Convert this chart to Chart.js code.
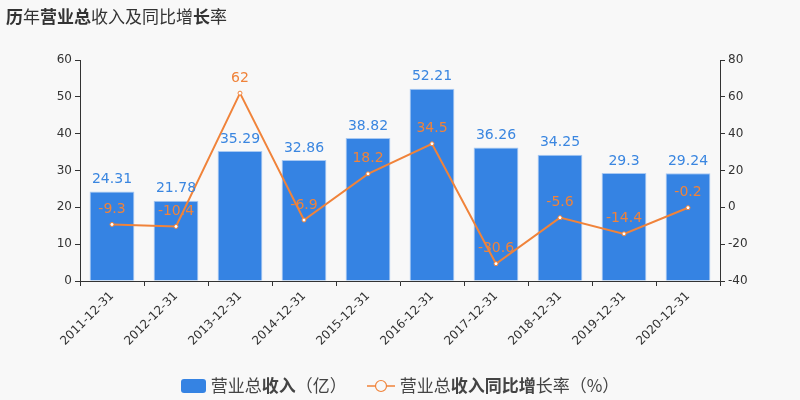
<!DOCTYPE html>
<html>
<head>
<meta charset="utf-8">
<script src="https://cdn.jsdelivr.net/npm/chart.js@4.4.0/dist/chart.umd.min.js"></script>
<style>
  html,body{margin:0;padding:0;background:#f8f8f8;}
  #wrap{position:relative;width:800px;height:400px;}
  #title{position:absolute;left:6px;top:3px;font-family:"DejaVu Sans","Noto Sans CJK SC",sans-serif;font-size:17px;color:#333;}
  #title b, #legend b{font-weight:bold;}
  #legend{position:absolute;left:0;top:372px;width:800px;text-align:center;font-family:"Noto Sans CJK SC",sans-serif;font-size:17px;line-height:22px;color:#444;white-space:nowrap;}
  .item{display:inline-block;vertical-align:middle;}
  .item + .item{margin-left:20px;}
  .mk{display:inline-block;vertical-align:middle;margin-right:5px;position:relative;top:-2px;}
</style>
</head>
<body>
<div id="wrap">
  <canvas id="c" width="800" height="400"></canvas>
  <div id="title"><b>历</b>年<b>营业总</b>收入及同比增<b>长</b>率</div>
  <div id="legend"></div>
</div>
<script>
const years = ['2011-12-31','2012-12-31','2013-12-31','2014-12-31','2015-12-31','2016-12-31','2017-12-31','2018-12-31','2019-12-31','2020-12-31'];
const revenue = [24.31, 21.78, 35.29, 32.86, 38.82, 52.21, 36.26, 34.25, 29.3, 29.24];
const growth = [-9.3, -10.4, 62, -6.9, 18.2, 34.5, -30.6, -5.6, -14.4, -0.2];
const leftTicks = [0, 60, 10];
const rightTicks = [-40, 80, 20];
const seriesNames = ['营业总收入（亿）', '营业总收入同比增长率（%）'];

const FONT = '"DejaVu Sans","Noto Sans CJK SC",sans-serif';
const BLUE = '#3583e3', ORANGE = '#f0833a';

// legend as html (mixed weights like the original)
function legendHtml(){
  const bar = '<svg class="mk" width="25" height="14"><rect x="0" y="0" width="25" height="14" rx="3" fill="'+BLUE+'"/></svg>';
  const line = '<svg class="mk" width="28" height="14"><line x1="0" y1="7" x2="28" y2="7" stroke="'+ORANGE+'" stroke-width="1.5"/>'+
    '<circle cx="14" cy="7" r="5.5" fill="#f8f8f8" stroke="'+ORANGE+'" stroke-width="1.2"/></svg>';
  const a = seriesNames[0], b = seriesNames[1];
  document.getElementById('legend').innerHTML =
    '<span class="item">'+bar+a.slice(0,3)+'<b>'+a.slice(3,5)+'</b>'+a.slice(5)+'</span>'+
    '<span class="item">'+line+b.slice(0,3)+'<b>'+b.slice(3,8)+'</b>'+b.slice(8)+'</span>';
}
legendHtml();

const valueLabels = {
  id:'valueLabels',
  afterDatasetsDraw(chart){
    const ctx = chart.ctx;
    ctx.save();
    ctx.font = '14px ' + FONT;
    ctx.textAlign = 'center'; ctx.textBaseline = 'bottom';
    chart.data.datasets.forEach((ds,i)=>{
      const meta = chart.getDatasetMeta(i);
      meta.data.forEach((el,j)=>{
        if(ds.type === 'line'){
          ctx.fillStyle = ORANGE;
          ctx.fillText(String(ds.data[j]), el.x, el.y - 8);
        } else {
          ctx.fillStyle = '#3a86e0';
          ctx.fillText(String(ds.data[j]), el.x, el.y - 5);
        }
      });
    });
    ctx.restore();
  }
};

new Chart(document.getElementById('c'), {
  data:{
    labels: years,
    datasets:[
      { type:'line', label: seriesNames[1], data: growth, yAxisID:'y1',
        borderColor: ORANGE, borderWidth: 2, pointRadius: 2, pointBackgroundColor:'#fff',
        pointBorderColor: ORANGE, pointBorderWidth: 1, tension: 0, order: 0 },
      { type:'bar', label: seriesNames[0], data: revenue, yAxisID:'y',
        backgroundColor: BLUE, borderColor:'#a9c9f2', borderWidth: 1,
        barPercentage: 0.7, categoryPercentage: 1, order: 1 }
    ]
  },
  options:{
    responsive:false, animation:false,
    layout:{ padding:{ top:60, left:0, right:0, bottom:38 } },
    plugins:{ legend:{ display:false }, tooltip:{ enabled:false } },
    scales:{
      x:{
        grid:{ offset:true, drawOnChartArea:false, tickLength:5, color:'#333' },
        border:{ color:'#333' },
        ticks:{ maxRotation:45, minRotation:45, color:'#333', font:{ size:12, family: FONT } },
        afterFit(s){ s.height = 81; }
      },
      y:{
        position:'left', min: leftTicks[0], max: leftTicks[1],
        ticks:{ stepSize: leftTicks[2], color:'#333', font:{ size:12, family: FONT } },
        grid:{ drawOnChartArea:false, tickLength:5, color:'#333' },
        border:{ color:'#333' },
        afterFit(s){ s.width = 80; }
      },
      y1:{
        position:'right', min: rightTicks[0], max: rightTicks[1],
        ticks:{ stepSize: rightTicks[2], color:'#333', font:{ size:12, family: FONT } },
        grid:{ drawOnChartArea:false, tickLength:5, color:'#333' },
        border:{ color:'#333' },
        afterFit(s){ s.width = 80; }
      }
    }
  },
  plugins:[valueLabels]
});
</script>
</body>
</html>
